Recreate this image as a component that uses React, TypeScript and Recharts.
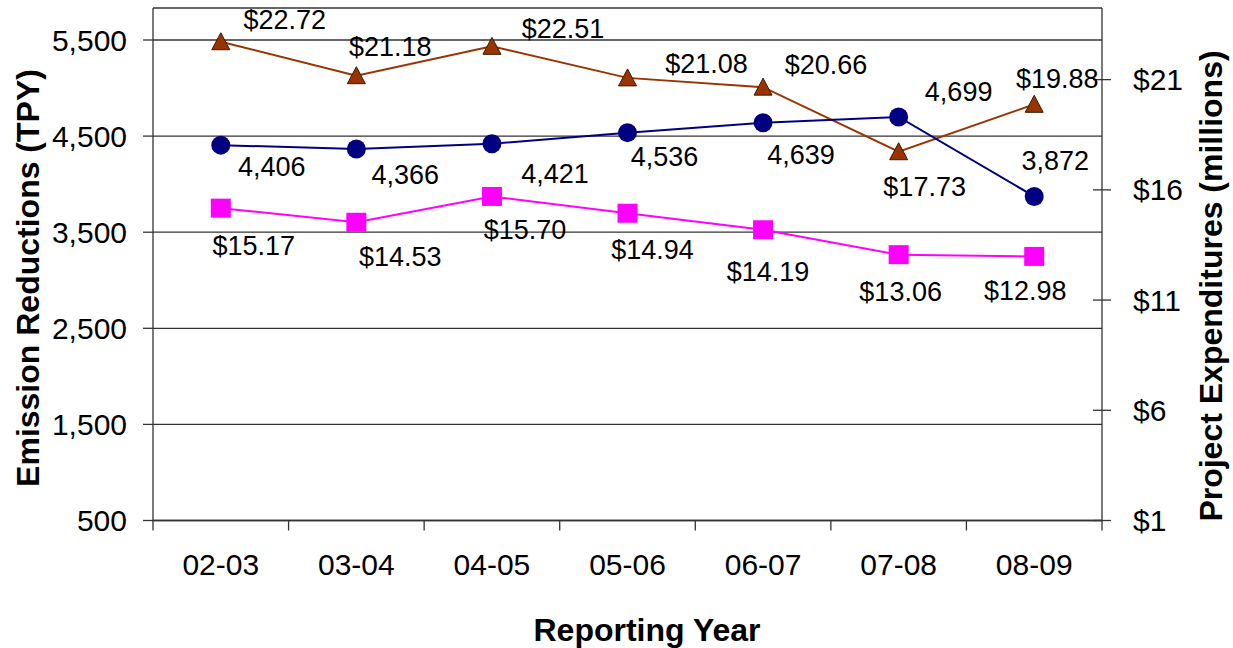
import { LineChart, Line, XAxis, YAxis, CartesianGrid, Label } from 'recharts';

const years = ['02-03', '03-04', '04-05', '05-06', '06-07', '07-08', '08-09'];
const emissionReductions = [4406, 4366, 4421, 4536, 4639, 4699, 3872];
const expendituresHigh = [22.72, 21.18, 22.51, 21.08, 20.66, 17.73, 19.88];
const expendituresLow = [15.17, 14.53, 15.7, 14.94, 14.19, 13.06, 12.98];
const leftTicks = [500, 1500, 2500, 3500, 4500, 5500];
const rightTicks = [1, 6, 11, 16, 21];

// label offsets (px) relative to each marker
const emissionLabelOffsets = [[51, 22], [49, 26], [63, 30], [37, 24], [38, 32], [60, -25], [21, -35]];
const highLabelOffsets = [[64, -22], [34, -29], [71, -17], [79, -14], [63, -22], [26, 35], [23, -25]];
const lowLabelOffsets = [[33, 38], [44, 35], [33, 34], [25, 37], [5, 42], [2, 37], [-9, 35]];

const data = years.map((year, i) => ({
  year,
  emissions: emissionReductions[i],
  high: expendituresHigh[i],
  low: expendituresLow[i],
}));

const W = 1233;
const H = 648;
const PLOT_LEFT = 153;
const PLOT_RIGHT = 1102;
const PLOT_BOTTOM = 520.5;
const HALF_BAND = (PLOT_RIGHT - PLOT_LEFT) / years.length / 2;
const FONT = '"Liberation Sans", Arial, sans-serif';
const GRID = '#333';

const fmtInt = (v: number) => v.toLocaleString('en-US');
const fmtMoney = (v: number) => '$' + v.toFixed(2);

const makeLabel = (offsets: number[][], fmt: (v: number) => string) => (p: any) => {
  const [dx, dy] = offsets[p.index] || [0, 0];
  return (
    <text
      key={`lbl-${p.index}`}
      x={p.x + dx}
      y={p.y + dy}
      textAnchor="middle"
      dominantBaseline="central"
      fontSize={27}
      fontFamily={FONT}
      fill="#000"
    >
      {fmt(Number(p.value))}
    </text>
  );
};

const CircleDot = (p: any) => <circle key={`c-${p.index}`} cx={p.cx} cy={p.cy} r={9.5} fill="#000080" />;
const SquareDot = (p: any) => (
  <rect key={`s-${p.index}`} x={p.cx - 10} y={p.cy - 9.5} width={20} height={19} fill="#ff00ff" />
);
const TriangleDot = (p: any) => (
  <path
    key={`t-${p.index}`}
    d={`M${p.cx},${p.cy - 9} L${p.cx + 9},${p.cy + 8} L${p.cx - 9},${p.cy + 8} Z`}
    fill="#993300"
    stroke="#3a1a00"
    strokeWidth={1}
  />
);

const XTick = (p: any) => {
  const last = p.index === years.length - 1;
  return (
    <g>
      <line x1={p.x - HALF_BAND} x2={p.x - HALF_BAND} y1={PLOT_BOTTOM} y2={PLOT_BOTTOM + 10} stroke={GRID} strokeWidth={1.3} />
      {last && (
        <line x1={p.x + HALF_BAND} x2={p.x + HALF_BAND} y1={PLOT_BOTTOM} y2={PLOT_BOTTOM + 10} stroke={GRID} strokeWidth={1.3} />
      )}
      <text x={p.x} y={575} textAnchor="middle" fontSize={30} fontFamily={FONT} fill="#000">
        {p.payload.value}
      </text>
    </g>
  );
};

const RightTick = (p: any) => (
  <g>
    <line x1={PLOT_RIGHT - 9} x2={PLOT_RIGHT + 9} y1={p.y} y2={p.y} stroke={GRID} strokeWidth={1.3} />
    <text x={PLOT_RIGHT + 31} y={p.y} dominantBaseline="central" fontSize={30} fontFamily={FONT} fill="#000">
      {'$' + p.payload.value}
    </text>
  </g>
);

export default function App() {
  return (
    <div style={{ position: 'absolute', left: 0, top: 0, width: W, height: H, background: '#fff' }}>
      <LineChart width={W} height={H} data={data} margin={{ top: 8, right: 31, bottom: 67.5, left: 33 }}>
        <CartesianGrid horizontal vertical={false} stroke={GRID} strokeWidth={1.3} yAxisId="left" />
        <XAxis
          dataKey="year"
          scale="band"
          height={60}
          stroke={GRID}
          strokeWidth={1.3}
          tickLine={false}
          tick={<XTick />}
          interval={0}
        >
          <Label
            content={() => (
              <text x={647} y={630} textAnchor="middle" dominantBaseline="central" fontSize={32} fontWeight="bold" fontFamily={FONT} fill="#000">
                Reporting Year
              </text>
            )}
          />
        </XAxis>
        <YAxis
          yAxisId="left"
          width={120}
          domain={[500, 5833]}
          ticks={leftTicks}
          tickFormatter={fmtInt}
          stroke={GRID}
          strokeWidth={1.3}
          tickSize={10}
          tickMargin={16}
          tick={{ fontSize: 30, fontFamily: FONT, fill: '#000' }}
        >
          <Label
            content={() => (
              <text
                x={28}
                y={278}
                transform="rotate(-90 28 278)"
                textAnchor="middle"
                dominantBaseline="central"
                fontSize={32}
                fontWeight="bold"
                fontFamily={FONT}
                fill="#000"
              >
                Emission Reductions (TPY)
              </text>
            )}
          />
        </YAxis>
        <YAxis
          yAxisId="right"
          orientation="right"
          width={100}
          domain={[1, 24.25]}
          ticks={rightTicks}
          stroke={GRID}
          strokeWidth={1.3}
          tickLine={false}
          tick={<RightTick />}
        >
          <Label
            content={() => (
              <text
                x={1211}
                y={286}
                transform="rotate(-90 1211 286)"
                textAnchor="middle"
                dominantBaseline="central"
                fontSize={32}
                fontWeight="bold"
                fontFamily={FONT}
                fill="#000"
              >
                Project Expenditures (millions)
              </text>
            )}
          />
        </YAxis>
        <Line
          yAxisId="right"
          dataKey="high"
          stroke="#993300"
          strokeWidth={2}
          dot={TriangleDot}
          label={makeLabel(highLabelOffsets, fmtMoney)}
          isAnimationActive={false}
        />
        <Line
          yAxisId="right"
          dataKey="low"
          stroke="#ff00ff"
          strokeWidth={2}
          dot={SquareDot}
          label={makeLabel(lowLabelOffsets, fmtMoney)}
          isAnimationActive={false}
        />
        <Line
          yAxisId="left"
          dataKey="emissions"
          stroke="#000080"
          strokeWidth={2}
          dot={CircleDot}
          label={makeLabel(emissionLabelOffsets, fmtInt)}
          isAnimationActive={false}
        />
      </LineChart>
    </div>
  );
}
